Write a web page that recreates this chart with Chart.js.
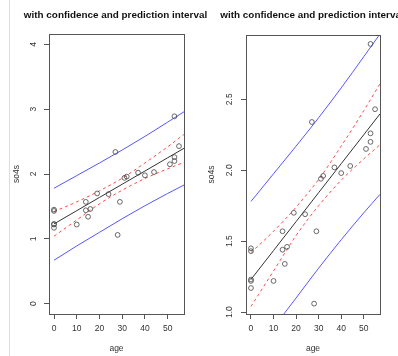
<!DOCTYPE html>
<html>
<head>
<meta charset="utf-8">
<script src="https://cdn.jsdelivr.net/npm/chart.js@4.4.1/dist/chart.umd.min.js"></script>
<style>
  html, body { margin: 0; padding: 0; background: #fff; overflow: hidden; }
  body { width: 398px; height: 356px; position: relative; }
  #edge { position: absolute; left: 9px; top: 0; width: 1px; height: 356px; background: #dcdcdc; }
  .panel { position: absolute; top: 0; height: 356px; }
  #left { left: 0; width: 215px; }
  #right { left: 200px; width: 210px; }
</style>
</head>
<body>
<div id="edge"></div>
<div class="panel" id="left"><canvas id="c1" width="215" height="356"></canvas></div>
<div class="panel" id="right"><canvas id="c2" width="210" height="356"></canvas></div>
<script>
// observed points
const age = [0, 0, 0, 0, 0, 10, 14, 14, 15, 16, 19, 24, 27, 28, 29, 31, 32, 37, 40, 44, 51, 53, 53, 53, 55];
const so4 = [1.45, 1.43, 1.23, 1.22, 1.17, 1.22, 1.57, 1.44, 1.34, 1.46, 1.70, 1.69, 2.34, 1.06, 1.57,
             1.94, 1.96, 2.02, 1.98, 2.03, 2.15, 2.20, 2.26, 2.89, 2.43];

// fitted line and bands
const gridAge = [0, 10, 20, 30, 40, 50, 57.2];
const fit     = [1.23, 1.434, 1.638, 1.842, 2.046, 2.25, 2.397];
const confUp  = [1.42, 1.57, 1.74, 1.935, 2.17, 2.42, 2.61];
const confLo  = [1.04, 1.29, 1.54, 1.75, 1.93, 2.08, 2.18];
const predUp  = [1.78, 1.975, 2.17, 2.37, 2.58, 2.80, 2.96];
const predLo  = [0.67, 0.89, 1.10, 1.31, 1.51, 1.70, 1.83];

const xTicks = [0, 10, 20, 30, 40, 50];
const yTicksLeft = [0, 1, 2, 3, 4];
const yTicksRight = [1.0, 1.5, 2.0, 2.5];

const titleText = 'with confidence and prediction interval';
const xTitle = 'age';
const yTitle = 'so4s';

const tickFont = { family: '"Liberation Sans", Arial, sans-serif', size: 8.5 };
const textColor = '#333';

const pts = (xs, ys) => xs.map((x, i) => ({ x: x, y: ys[i] }));

const boxAndTitle = {
    id: 'boxAndTitle',
    afterDatasetsDraw(chart) {
        const a = chart.chartArea;
        const ctx = chart.ctx;
        ctx.save();
        ctx.strokeStyle = '#555';
        ctx.lineWidth = 1;
        ctx.strokeRect(Math.round(a.left) + 0.5, Math.round(a.top) + 0.5,
            Math.round(a.right - a.left), Math.round(a.bottom - a.top));
        ctx.restore();
    },
    afterDraw(chart) {
        const a = chart.chartArea;
        const ctx = chart.ctx;
        ctx.save();
        ctx.font = 'bold 9.9px "Liberation Sans", Arial, sans-serif';
        ctx.fillStyle = '#111';
        ctx.textAlign = 'center';
        ctx.textBaseline = 'middle';
        ctx.fillText(titleText, (a.left + a.right) / 2 - 1, 15.5);
        ctx.restore();
    }
};

function lineSet(ys, color, dash) {
    return {
        data: pts(gridAge, ys),
        showLine: true,
        borderColor: color,
        borderWidth: 1,
        borderDash: dash,
        pointRadius: 0,
        cubicInterpolationMode: 'monotone',
        fill: false
    };
}

function makeChart(id, cfg) {
    new Chart(document.getElementById(id), {
        type: 'scatter',
        data: {
            datasets: [
                {
                    data: pts(age, so4),
                    pointRadius: 2.4,
                    pointBorderWidth: 0.8,
                    borderColor: '#444',
                    backgroundColor: 'rgba(0,0,0,0)'
                },
                lineSet(fit, '#333', []),
                lineSet(confUp, '#ff4a4a', [3, 3]),
                lineSet(confLo, '#ff4a4a', [3, 3]),
                lineSet(predUp, '#5656ff', []),
                lineSet(predLo, '#5656ff', [])
            ]
        },
        options: {
            responsive: false,
            animation: false,
            events: [],
            layout: { padding: { left: 0, top: cfg.top, right: cfg.right, bottom: 0 } },
            plugins: { legend: { display: false }, tooltip: { enabled: false } },
            scales: {
                x: {
                    type: 'linear',
                    min: -2.2,
                    max: 57.2,
                    afterBuildTicks: s => { s.ticks = xTicks.map(v => ({ value: v })); },
                    afterFit: s => { s.height = 42; },
                    border: { display: false },
                    grid: { drawOnChartArea: false, drawTicks: true, tickLength: 5, color: '#555' },
                    ticks: { autoSkip: false, maxRotation: 0, padding: 5, color: textColor, font: tickFont,
                             callback: v => String(v) },
                    title: { display: true, text: xTitle, color: textColor, font: tickFont,
                             padding: { top: 0, bottom: 2 } }
                },
                y: {
                    type: 'linear',
                    min: cfg.yMin,
                    max: cfg.yMax,
                    afterBuildTicks: s => { s.ticks = cfg.yTicks.map(v => ({ value: v })); },
                    afterFit: s => { s.width = cfg.yWidth; },
                    border: { display: false },
                    grid: { drawOnChartArea: false, drawTicks: true, tickLength: 5, color: '#555' },
                    ticks: { autoSkip: false, minRotation: 90, maxRotation: 90, crossAlign: 'center',
                             padding: cfg.yPad, color: textColor, font: tickFont, callback: cfg.fmt },
                    title: { display: true, text: yTitle, color: textColor, font: tickFont,
                             padding: { top: cfg.titlePad, bottom: 0 } }
                }
            }
        },
        plugins: [boxAndTitle]
    });
}

makeChart('c1', {
    top: 34, right: 31, yWidth: 49, yPad: 8.3, titlePad: 11.9,
    yMin: -0.16, yMax: 4.16, yTicks: yTicksLeft, fmt: v => String(v)
});

makeChart('c2', {
    top: 35, right: 30, yWidth: 46, yPad: 5.8, titlePad: 6.9,
    yMin: 0.987, yMax: 2.953, yTicks: yTicksRight, fmt: v => v.toFixed(1)
});
</script>
</body>
</html>
